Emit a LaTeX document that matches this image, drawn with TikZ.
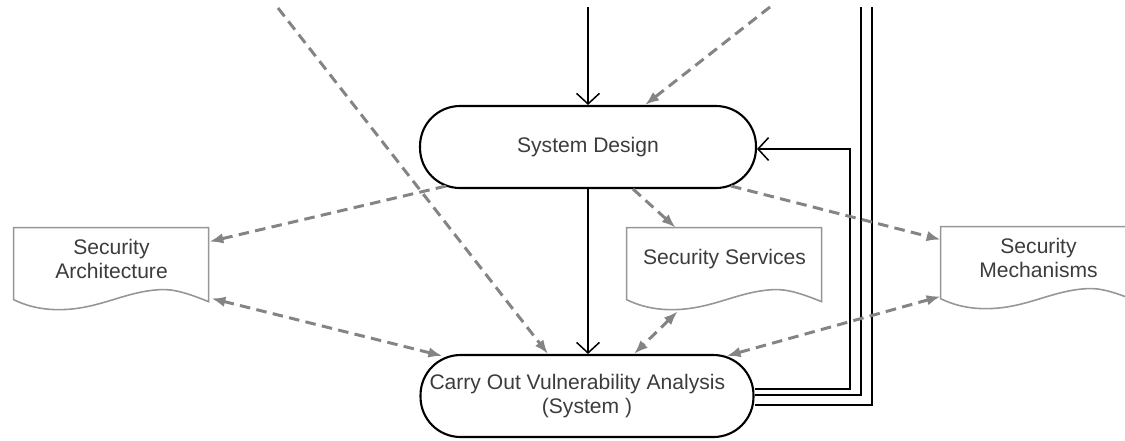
\documentclass[tikz,border=0pt]{standalone}
\usepackage{fontspec}
\setmainfont{Liberation Sans}
\usetikzlibrary{arrows.meta,calc}
\definecolor{dashgray}{RGB}{132,132,132}
\definecolor{docgray}{RGB}{150,150,150}
\definecolor{textgray}{RGB}{60,60,60}
\begin{document}
\begin{tikzpicture}[x=0.02cm,y=-0.02cm,
font=\fontsize{12}{13.5}\selectfont,
process/.style={
% The shape:
rectangle,rounded corners=0.8cm,
draw=black,line width=1.2pt,
minimum width=6.72cm,minimum height=1.64cm,
text=textgray,align=center
},
doc/.style={
rectangle,minimum width=3.9cm,minimum height=1.24cm,
text=textgray,align=center
},
flow/.style={draw=black,line width=0.85pt,-{Straight Barb[length=6pt,width=13pt]}},
link/.style={draw=black,line width=0.85pt},
dep/.style={draw=dashgray,line width=1.7pt,dash pattern=on 6pt off 3.6pt,-{Latex[length=8pt,width=6pt]}},
depboth/.style={dep,{Latex[length=8pt,width=6pt]}-{Latex[length=8pt,width=6pt]}}
]
\useasboundingbox (0,0) rectangle (1125,440);
% Processes:
\node (sys) [process] at (588,147) {System Design};
\node (vuln) [process,minimum width=6.66cm] at (587,396) {Carry Out Vulnerability Analysis\hspace*{11pt}\\(System )};
% Documents:
\node (arch) [doc] at (111.5,259) {Security\\Architecture};
\node (serv) [doc] at (724.5,259) {Security Services};
\node (mech) [doc] at (1038.5,258) {Security\\Mechanisms};
\foreach \d in {arch,serv,mech}
  \draw[docgray,line width=0.9pt,shift={(\d.north west)}] (0,0) -- (195,0) -- (195,74)
    .. controls (175,66) and (160,61) .. (146,62) .. controls (110,64) and (85,82) .. (45,82)
    .. controls (25,82) and (10,77) .. (0,72) -- cycle;
% Free ends:
\coordinate (top) at (588,7);
\coordinate (topleft) at (278,8);
\coordinate (topright) at (770,7);
\coordinate (back) at (850,149);
\coordinate (upB) at (861,7);
\coordinate (upC) at (872,7);
\draw[flow] (top) -- (sys.north);
\draw[flow] (sys.south) -- (sys.south |- vuln.north);
\draw[flow] ($(vuln.east)+(0,-7)$) -| (back) -- (back -| sys.east);
\draw[link] ($(vuln.east)+(0,-1)$) -| (upB);
\draw[link] ($(vuln.east)+(0,9)$) -| (upC);
% \draw[flow] (vuln.east) -- (sys.east);
\draw[dep] (topleft) -- ($(vuln.north)+(-39,0)$);
\draw[dep] (topright) -- ($(sys.north)+(57,0)$);
\draw[dep] ($(sys.south west)+(27,-3)$) -- ($(arch.north east)+(0,14)$);
\draw[depboth] ($(arch.south east)+(2,8)$) -- ($(vuln.north west)+(23,2)$);
\draw[dep] ($(sys.south)+(45,0)$) -- ($(serv.north west)+(49,0)$);
\draw[depboth] ($(serv.south west)+(51,21)$) -- ($(vuln.north)+(47,0)$);
\draw[dep] ($(sys.south east)+(-26,-3)$) -- ($(mech.north west)+(0,13)$);
\draw[depboth] ($(mech.south west)+(0,7)$) -- ($(vuln.north east)+(-28,2)$);
\end{tikzpicture}
\end{document}
